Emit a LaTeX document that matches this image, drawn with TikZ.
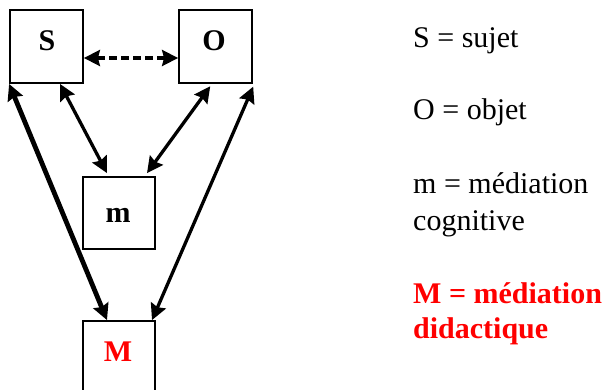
\documentclass[tikz,border=0pt]{standalone}
\usepackage{fontspec}
\setmainfont{Liberation Serif}
\usetikzlibrary{arrows.meta}
\definecolor{mred}{RGB}{255,0,0}
\begin{document}
\begin{tikzpicture}[x=1pt,y=-1pt,
 box/.style={draw,line width=1.8pt,minimum width=73pt,minimum height=73pt,inner sep=0pt},
 lbl/.style={font=\fontsize{30}{30}\selectfont\bfseries,anchor=base,inner sep=0pt},
 leg/.style={font=\fontsize{30}{36}\selectfont,anchor=base west,inner sep=0pt},
 link/.style={line width=3.3pt,{Stealth[length=16pt,width=16pt,inset=2pt]}-{Stealth[length=16pt,width=16pt,inset=2pt]}}]
\useasboundingbox (0,0) rectangle (614,389);
\fill[white] (0,0) rectangle (614,389);
\clip (0,0) rectangle (614,389);
% boxes
\node[box] (S) at (46.5,46.5) {};
\node[box] (O) at (215.5,46.5) {};
\node[box,minimum width=72pt,minimum height=72pt] (m) at (119,213) {};
\node[box,minimum width=72pt,minimum height=100pt] (M) at (119,371) {};
% box labels
\node[lbl] (Sl) at (47,50) {S};
\node[lbl] (Ol) at (214,50) {O};
\node[lbl] (ml) at (118,222) {m};
\node[lbl,text=mred] (Ml) at (118,361) {M};
% connectors
\draw[link,dash pattern=on 8pt off 4pt] ([yshift=-11.5pt]S.east) -- ([yshift=-11.5pt]O.west);
\draw[link] ([xshift=13.5pt]S.south) -- ([xshift=-12pt,yshift=3pt]m.north);
\draw[link,shorten <=3pt] ([xshift=-3.5pt]O.south) -- ([xshift=28pt,yshift=3pt]m.north);
\draw[link,line width=4.8pt] (S.south west) -- ([xshift=-12pt]M.north);
\draw[link,shorten <=3pt] ([xshift=1.5pt]O.south east) -- ([xshift=33pt]M.north);
% legend
\node[leg] (l1) at (413,47) {S = sujet};
\node[leg] (l2) at (413,119) {O = objet};
\node[leg] (l3) at (413,193) {m = médiation};
\node[leg] (l4) at (413,230) {cognitive};
\node[leg,font=\fontsize{30}{36}\selectfont\bfseries,text=mred] (l5) at (413,303) {M = médiation};
\node[leg,font=\fontsize{30}{36}\selectfont\bfseries,text=mred] (l6) at (413,338) {didactique};
\end{tikzpicture}
\end{document}
